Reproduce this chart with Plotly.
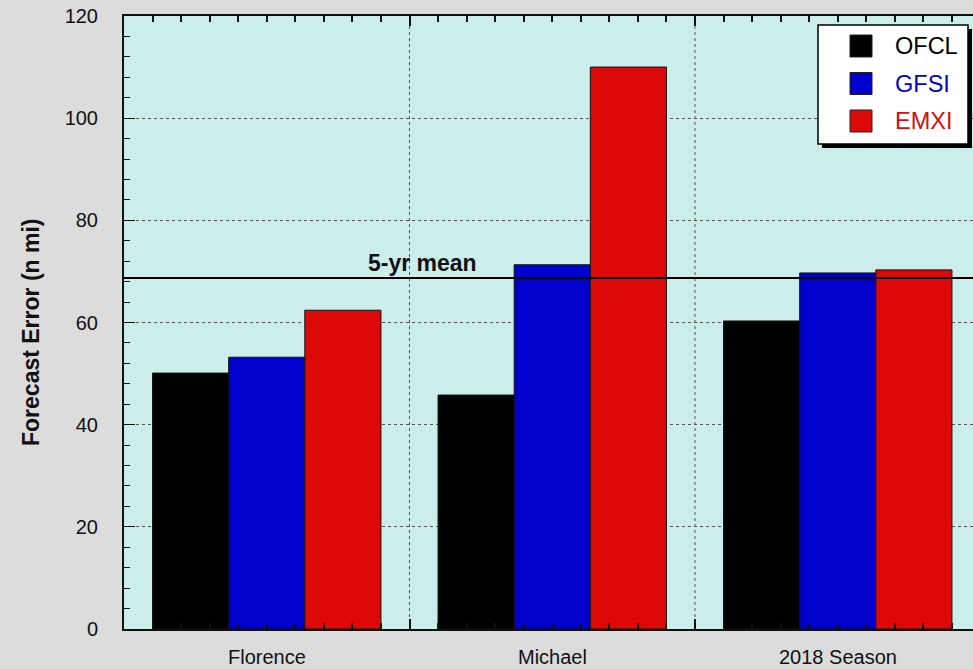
import plotly.graph_objects as go

# Forecast error data (n mi)
categories = ["Florence", "Michael", "2018 Season"]
ofcl = [50.1, 45.8, 60.3]
gfsi = [53.2, 71.3, 69.7]
emxi = [62.4, 110.0, 70.3]
five_yr_mean = 68.7

series_names = ["OFCL", "GFSI", "EMXI"]
series_values = [ofcl, gfsi, emxi]
bar_colors = ["#000000", "#0000cc", "#dd0808"]
text_colors = ["#000000", "#0000c8", "#d01010"]

W, H = 973, 669
ML, MR, MT, MB = 124, 0, 16, 40
PW, PH = W - ML - MR, H - MT - MB
FONT = "Liberation Sans, Arial, sans-serif"

# category centres sit at 0.5, 1.5, 2.5 on a numeric axis
xpos = [i + 0.5 for i in range(len(categories))]
x_max = PW / 285.5


def px(x):
    return (x - ML) / PW


def py(y):
    return (H - MB - y) / PH


fig = go.Figure()
for name, vals, col in zip(series_names, series_values, bar_colors):
    fig.add_trace(go.Bar(
        x=xpos, y=vals, name=name,
        marker=dict(color=col, line=dict(color="#111111", width=1)),
        showlegend=False,
    ))

shapes = []
# vertical dotted separators between categories
for xv in [1, 2]:
    shapes.append(dict(type="line", xref="x", yref="paper", x0=xv, x1=xv, y0=0, y1=1,
                       line=dict(color="#555555", width=1, dash="dot"), layer="below"))
# 5-yr mean reference line
shapes.append(dict(type="line", xref="paper", yref="y", x0=0, x1=1,
                   y0=five_yr_mean, y1=five_yr_mean,
                   line=dict(color="#000000", width=2), layer="above"))

# legend box with drop shadow
lx0, lx1, ly0, ly1 = 818, 968, 25, 144
shapes.append(dict(type="rect", xref="paper", yref="paper",
                   x0=px(lx0 + 4), x1=px(lx1 + 4), y0=py(ly1 + 4), y1=py(ly0 + 4),
                   fillcolor="#000000", line=dict(width=0), layer="above"))
shapes.append(dict(type="rect", xref="paper", yref="paper",
                   x0=px(lx0), x1=px(lx1), y0=py(ly1), y1=py(ly0),
                   fillcolor="#ffffff", line=dict(color="#000000", width=1.5), layer="above"))

annotations = []
centers = [46, 83.5, 121]
for name, col, tcol, cy in zip(series_names, bar_colors, text_colors, centers):
    shapes.append(dict(type="rect", xref="paper", yref="paper",
                       x0=px(850), x1=px(872), y0=py(cy + 11), y1=py(cy - 11),
                       fillcolor=col, line=dict(color="#222222", width=1), layer="above"))
    annotations.append(dict(text=name, xref="paper", yref="paper", x=px(893), y=py(cy),
                            xanchor="left", yanchor="middle", showarrow=False,
                            font=dict(family=FONT, size=23.5, color=tcol)))

# category labels under the axis
for xv, cat in zip(xpos, categories):
    annotations.append(dict(text=cat, xref="x", yref="paper", x=xv, y=0,
                            xanchor="center", yanchor="top", yshift=-15, showarrow=False,
                            font=dict(family=FONT, size=20, color="#111111")))

annotations.append(dict(text="<b>5-yr mean</b>", xref="x", yref="y", x=(422 - ML) / 285.5,
                        y=five_yr_mean, xanchor="center", yanchor="bottom", yshift=0,
                        showarrow=False, font=dict(family=FONT, size=23, color="#111111")))
annotations.append(dict(text="<b>Forecast Error (n mi)</b>", xref="paper", yref="paper",
                        x=px(31), y=py(332), xanchor="center", yanchor="middle",
                        textangle=-90, showarrow=False,
                        font=dict(family=FONT, size=23, color="#111111")))

fig.update_layout(
    width=W, height=H,
    margin=dict(l=ML, r=MR, t=MT, b=MB),
    paper_bgcolor="#dcdcdc",
    plot_bgcolor="#cceeea",
    barmode="group", bargap=0.2, bargroupgap=0,
    shapes=shapes, annotations=annotations,
    showlegend=False,
    # tick frame: long ticks at category boundaries, short ticks every tenth
    xaxis=dict(
        range=[0, x_max], tickmode="linear", tick0=0, dtick=1,
        ticks="inside", ticklen=10, tickwidth=2, tickcolor="#111111",
        tickfont=dict(color="rgba(0,0,0,0)", size=1),
        showgrid=False, zeroline=False,
        showline=True, linecolor="#111111", linewidth=2, mirror="ticks",
        minor=dict(tickmode="linear", tick0=0, dtick=0.1, ticks="inside", ticklen=6,
                   tickwidth=2, tickcolor="#111111"),
    ),
    yaxis=dict(
        range=[0, 120], tickmode="linear", tick0=0, dtick=20,
        showgrid=True, gridcolor="#555555", griddash="dot", gridwidth=1,
        zeroline=False, showline=True, linecolor="#111111", linewidth=2,
        ticks="inside", ticklen=11, tickwidth=1, tickcolor="#111111",
        ticklabelstandoff=20,
        tickfont=dict(family=FONT, size=20, color="#111111"),
        minor=dict(dtick=4, ticks="inside", ticklen=6, tickwidth=1, tickcolor="#111111",
                   showgrid=False),
    ),
)

fig.write_html("out.html")
